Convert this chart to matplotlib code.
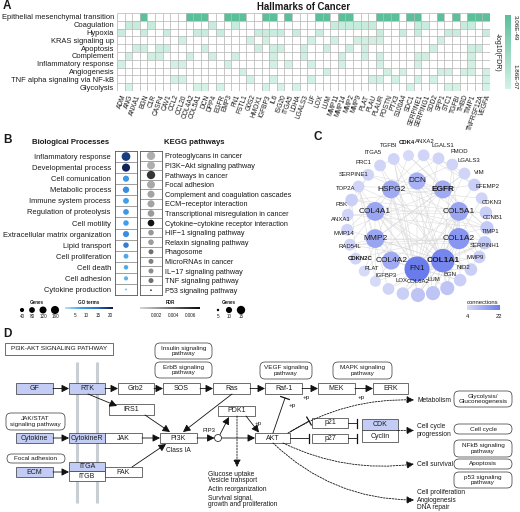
import numpy as np
import matplotlib
matplotlib.use('Agg')
import matplotlib.pyplot as plt
from matplotlib.colors import LinearSegmentedColormap, Normalize
from matplotlib.cm import ScalarMappable
from matplotlib.patches import FancyBboxPatch, Rectangle, Circle

plt.rcParams['font.family'] = ['Liberation Sans', 'DejaVu Sans']
plt.rcParams['axes.linewidth'] = 0.6

# ------------------------------------------------------------------ data
# Panel A
hm_genes = ['ADM', 'ANG', 'ANXA1', 'BGN', 'C1R', 'CASP4', 'CAV1', 'CCL2', 'CCL20', 'COL4A2',
            'COL5A1', 'DCN', 'DPP4', 'EGFR', 'EMP3', 'FN1', 'FSTL1', 'G0S2', 'HMOX1', 'IGFBP3',
            'IL6', 'ISG20', 'ITGA5', 'LDHA', 'LGALS3', 'LIF', 'LOX', 'LUM', 'MMP11', 'MMP14',
            'MMP2', 'MMP9', 'PLAT', 'PLAU', 'PLAUR', 'POSTN', 'PTX3', 'S100A4', 'SDC1', 'SERPINE1',
            'SERPING1', 'SOD2', 'SPP1', 'STC1', 'TGFBI', 'THBD', 'TIMP1', 'TNFRSF12A', 'VEGFA']
hallmarks = ['Epithelial mesenchymal transition', 'Coagulation', 'Hypoxia', 'KRAS signaling up',
             'Apoptosis', 'Complement', 'Inflammatory response', 'Angiogenesis',
             'TNF alpha signaling via NF-kB', 'Glycolysis']
hallmark_nlogfdr = [48.51, 12.0, 11.0, 8.5, 9.5, 9.0, 8.0, 8.5, 7.5, 6.9]
emt_genes = ['BGN', 'COL4A2', 'COL5A1', 'DCN', 'EMP3', 'FN1', 'FSTL1', 'IGFBP3', 'IL6', 'ITGA5',
             'LOX', 'LUM', 'MMP14', 'MMP2', 'PLAUR', 'POSTN', 'PTX3', 'SDC1', 'SERPINE1', 'SPP1',
             'TGFBI', 'TIMP1', 'TNFRSF12A', 'VEGFA']
coag_genes = ['ANG', 'ANXA1', 'C1R', 'DPP4', 'FN1', 'MMP11', 'MMP14', 'MMP2', 'MMP9', 'PLAT',
              'PLAU', 'SERPINE1', 'SERPING1', 'THBD', 'TIMP1']
hypoxia_genes = ['ADM', 'BGN', 'CAV1', 'COL5A1', 'DCN', 'EGFR', 'HMOX1', 'IGFBP3', 'IL6', 'ISG20',
                 'LDHA', 'LOX', 'PLAUR', 'S100A4', 'SERPINE1', 'STC1', 'TGFBI', 'VEGFA']
kras_genes = ['CCL20', 'G0S2', 'IGFBP3', 'LIF', 'MMP11', 'MMP9', 'PLAT', 'PLAU', 'PLAUR', 'SPP1']
apop_genes = ['ANXA1', 'BGN', 'CASP4', 'CAV1', 'DCN', 'HMOX1', 'IL6', 'ISG20', 'LGALS3', 'LUM',
              'MMP2', 'PLAT', 'SOD2', 'TIMP1', 'TNFRSF12A']
compl_genes = ['ANG', 'C1R', 'CASP4', 'COL4A2', 'DPP4', 'FN1', 'IL6', 'LGALS3', 'MMP14', 'PLAT',
               'PLAUR', 'SERPINE1', 'SERPING1', 'TIMP1']
inflam_genes = ['ADM', 'CCL2', 'CCL20', 'EMP3', 'IL6', 'ITGA5', 'LIF', 'MMP14', 'PLAUR',
                'SERPINE1', 'TIMP1']
angio_genes = ['FSTL1', 'LUM', 'POSTN', 'S100A4', 'SPP1', 'STC1', 'THBD', 'TIMP1', 'VEGFA']
tnf_genes = ['CCL2', 'CCL20', 'G0S2', 'IL6', 'LIF', 'PLAU', 'PLAUR', 'PTX3', 'SERPINE1', 'SOD2',
             'VEGFA']
glyco_genes = ['ANG', 'COL5A1', 'DCN', 'EGFR', 'IGFBP3', 'ISG20', 'LDHA', 'SDC1', 'STC1', 'TGFBI',
               'VEGFA']
hallmark_members = [emt_genes, coag_genes, hypoxia_genes, kras_genes, apop_genes, compl_genes,
                    inflam_genes, angio_genes, tnf_genes, glyco_genes]

# Panel B
bp_terms = ['Inflammatory response', 'Developmental process', 'Cell comunication',
            'Metabolic process', 'Immune system process', 'Regulation of proteolysis',
            'Cell motility', 'Extracellular matrix organization', 'Lipid transport',
            'Cell proliferation', 'Cell death', 'Cell adhesion', 'Cytokine production']
bp_genes = [185, 160, 90, 98, 82, 78, 72, 90, 72, 58, 48, 40, 8]
bp_goterms = [18, 20, 9, 10, 8, 9, 8, 10, 12, 7, 7, 6, 4]
kegg_terms = ['Proteoglycans in cancer', 'PI3K\u2212Akt signaling pathway', 'Pathways in cancer',
              'Focal adhesion', 'Complement and coagulation cascades', 'ECM\u2212receptor interaction',
              'Transcriptional misregulation in cancer', 'Cytokine\u2212cytokine receptor interaction',
              'HIF\u22121 signaling pathway', 'Relaxin signaling pathway', 'Phagosome',
              'MicroRNAs in cancer', 'IL\u221217 signaling pathway', 'TNF signaling pathway',
              'P53 signaling pathway']
kegg_genes = [15, 14, 15, 14, 12, 12, 11, 11, 9, 9, 8, 8, 8, 8, 4.5]
kegg_fdr = [0.0014, 0.0014, 0.0056, 0.0016, 0.0018, 0.0018, 0.0021, 0.0068, 0.0022, 0.0020,
            0.0036, 0.0030, 0.0026, 0.0036, 0.0068]
bp_legend_genes = [40, 80, 120, 160]
kegg_legend_genes = [5, 10, 15]

# Panel C
inner_nodes = ['DCN', 'EGFR', 'COL5A1', 'COL1A2', 'COL1A1', 'FN1', 'COL4A2', 'MMP2', 'COL4A1', 'HSPG2']
inner_conn = [12, 13, 14, 17, 20, 22, 13, 14, 14, 13]
outer_nodes = ['CDK4', 'ANXA2', 'LGALS1', 'FMOD', 'LGALS3', 'VIM', 'EFEMP2', 'CDKN3', 'CCNB1',
               'TIMP1', 'SERPINH1', 'MMP9', 'NID2', 'BGN', 'LUM', 'COL6A2', 'LOX', 'IGFBP3', 'PLAT',
               'CDKN2C', 'RAD54L', 'MMP14', 'ANXA1', 'PBK', 'TOP2A', 'SERPINE1', 'PRC1', 'ITGA5',
               'TGFBI']
outer_conn = [4, 5, 5, 5, 5, 6, 5, 6, 7, 7, 6, 6, 6, 8, 8, 8, 6, 5, 4, 4, 5, 5, 5, 5, 6, 5, 5, 5, 5]
bold_nodes = ['EGFR', 'COL1A1', 'CDK4', 'CDKN2C']
net_edges = [
    ('FN1', 'COL1A1'), ('FN1', 'COL1A2'), ('FN1', 'COL4A1'), ('FN1', 'COL4A2'), ('FN1', 'COL5A1'),
    ('FN1', 'DCN'), ('FN1', 'EGFR'), ('FN1', 'HSPG2'), ('FN1', 'MMP2'), ('FN1', 'ITGA5'),
    ('FN1', 'TGFBI'), ('FN1', 'SERPINE1'), ('FN1', 'TIMP1'), ('FN1', 'VIM'), ('FN1', 'LGALS3'),
    ('FN1', 'BGN'), ('FN1', 'LUM'), ('FN1', 'MMP9'), ('FN1', 'IGFBP3'), ('FN1', 'SERPINH1'),
    ('FN1', 'NID2'), ('FN1', 'LOX'), ('FN1', 'LGALS1'), ('FN1', 'PLAT'),
    ('COL1A1', 'COL1A2'), ('COL1A1', 'COL5A1'), ('COL1A1', 'DCN'), ('COL1A1', 'MMP2'),
    ('COL1A1', 'COL4A1'), ('COL1A1', 'COL4A2'), ('COL1A1', 'HSPG2'), ('COL1A1', 'LUM'),
    ('COL1A1', 'BGN'), ('COL1A1', 'SERPINH1'), ('COL1A1', 'MMP14'), ('COL1A1', 'FMOD'),
    ('COL1A1', 'COL6A2'), ('COL1A1', 'LOX'), ('COL1A1', 'TIMP1'), ('COL1A1', 'MMP9'),
    ('COL1A1', 'ITGA5'), ('COL1A1', 'NID2'), ('COL1A1', 'TGFBI'),
    ('COL1A2', 'COL5A1'), ('COL1A2', 'DCN'), ('COL1A2', 'MMP2'), ('COL1A2', 'COL4A1'),
    ('COL1A2', 'LUM'), ('COL1A2', 'BGN'), ('COL1A2', 'SERPINH1'), ('COL1A2', 'COL6A2'),
    ('COL1A2', 'FMOD'), ('COL1A2', 'LOX'), ('COL1A2', 'MMP14'), ('COL1A2', 'EFEMP2'),
    ('COL5A1', 'COL4A1'), ('COL5A1', 'COL4A2'), ('COL5A1', 'DCN'), ('COL5A1', 'LUM'),
    ('COL5A1', 'BGN'), ('COL5A1', 'COL6A2'), ('COL5A1', 'SERPINH1'), ('COL5A1', 'NID2'),
    ('COL4A1', 'COL4A2'), ('COL4A1', 'HSPG2'), ('COL4A1', 'MMP2'), ('COL4A1', 'NID2'),
    ('COL4A1', 'MMP9'), ('COL4A1', 'MMP14'), ('COL4A2', 'HSPG2'), ('COL4A2', 'NID2'),
    ('COL4A2', 'MMP2'), ('COL4A2', 'PLAT'), ('HSPG2', 'LGALS1'), ('HSPG2', 'EFEMP2'),
    ('HSPG2', 'COL6A2'), ('HSPG2', 'DCN'), ('DCN', 'LUM'), ('DCN', 'BGN'), ('DCN', 'FMOD'),
    ('DCN', 'EGFR'), ('DCN', 'TGFBI'), ('MMP2', 'MMP14'), ('MMP2', 'TIMP1'), ('MMP2', 'MMP9'),
    ('MMP2', 'PLAT'), ('MMP2', 'SERPINE1'), ('MMP2', 'LGALS3'), ('MMP2', 'ANXA1'),
    ('EGFR', 'CDK4'), ('EGFR', 'CCNB1'), ('EGFR', 'ANXA1'), ('EGFR', 'ANXA2'), ('EGFR', 'VIM'),
    ('EGFR', 'LGALS3'), ('EGFR', 'MMP9'), ('EGFR', 'TIMP1'), ('EGFR', 'SERPINE1'),
    ('EGFR', 'CDKN2C'), ('EGFR', 'TOP2A'), ('EGFR', 'PRC1'), ('EGFR', 'MMP2'),
    ('TOP2A', 'PBK'), ('TOP2A', 'PRC1'), ('TOP2A', 'CCNB1'), ('TOP2A', 'CDKN3'),
    ('TOP2A', 'RAD54L'), ('PBK', 'PRC1'), ('PBK', 'CCNB1'), ('PBK', 'CDKN3'), ('PRC1', 'CCNB1'),
    ('CCNB1', 'CDKN3'), ('CCNB1', 'CDK4'), ('CDK4', 'CDKN2C'), ('RAD54L', 'CCNB1'),
    ('ANXA1', 'ANXA2'), ('LGALS1', 'LGALS3'), ('SERPINE1', 'PLAT'), ('SERPINE1', 'TIMP1'),
    ('TIMP1', 'MMP9'), ('VIM', 'LGALS1'), ('TGFBI', 'COL6A2'), ('ITGA5', 'TGFBI'),
    ('IGFBP3', 'SERPINE1'), ('ANXA2', 'VIM'), ('MMP14', 'TIMP1'), ('IGFBP3', 'TIMP1')]

# Panel D (diagram boxes: label, x0, y0, x1, y1, kind)
pathway_boxes = [
    ('PI3K-AKT SIGNALING PATHWAY', 5, 343, 113, 355, 'title'),
    ('Insulin signaling\npathway', 155, 343, 212, 359, 'round'),
    ('ErbB signaling\npathway', 155, 362, 212, 378, 'round'),
    ('VEGF signaling\npathway', 260, 362, 312, 379, 'round'),
    ('MAPK signaling\npathway', 333, 362, 392, 379, 'round'),
    ('GF', 16, 383, 53, 394, 'blue'), ('RTK', 69, 383, 105, 394, 'blue'),
    ('Grb2', 118, 383, 154, 394, 'white'), ('SOS', 163, 383, 200, 394, 'white'),
    ('Ras', 213, 383, 250, 394, 'white'), ('Raf-1', 265, 383, 302, 394, 'white'),
    ('MEK', 318, 383, 355, 394, 'white'), ('ERK', 373, 383, 408, 394, 'white'),
    ('IRS1', 109, 404, 154, 415, 'white'), ('PDK1', 218, 406, 255, 416, 'white'),
    ('JAK/STAT\nsignaling pathway', 6, 413, 65, 430, 'round'),
    ('Cytokine', 16, 433, 53, 443, 'blue'), ('CytokineR', 69, 433, 105, 443, 'blue'),
    ('JAK', 105, 433, 142, 443, 'white'), ('PI3K', 160, 433, 197, 443, 'white'),
    ('AKT', 255, 433, 290, 443, 'white'),
    ('p21', 312, 418, 348, 428, 'white'), ('p27', 312, 434, 348, 443, 'white'),
    ('CDK', 362, 419, 398, 430, 'blue'), ('Cyclin', 362, 430, 398, 442, 'white'),
    ('Focal adhesion', 7, 454, 65, 463, 'round'),
    ('ECM', 16, 467, 53, 477, 'blue'), ('ITGA', 69, 462, 105, 471, 'blue'),
    ('ITGB', 69, 471, 105, 481, 'white'), ('FAK', 105, 467, 142, 477, 'white'),
    ('Glycolysis/\nGluconeogenesis', 454, 391, 512, 407, 'round'),
    ('Cell cycle', 454, 424, 512, 434, 'round'),
    ('NFkB signaling\npathway', 454, 440, 512, 457, 'round'),
    ('Apoptosis', 454, 459, 512, 469, 'round'),
    ('p53 signaling\npathway', 454, 472, 512, 488, 'round'),
]
solid_arrows = [(53, 388.5, 69, 388.5), (105, 388.5, 118, 388.5), (154, 388.5, 163, 388.5),
                (200, 388.5, 213, 388.5), (250, 388.5, 265, 388.5), (302, 388.5, 318, 388.5),
                (355, 388.5, 373, 388.5), (88, 394, 117, 406), (145, 415, 170, 432),
                (232, 394, 183, 432), (53, 438, 69, 438), (142, 438, 160, 438),
                (132, 467, 166, 444), (53, 472, 69, 472), (197, 438, 214.5, 438),
                (221.5, 438, 255, 438), (220, 434.5, 229, 417), (246, 416, 259, 432.5)]
inhibitions = [(273, 433, 285, 398), (290, 432, 309, 421), (290, 438, 309, 438),
               (348, 423, 357, 423), (348, 438, 357, 438)]
dashed_arrows = [(237, 416, 237, 467, 0.0), (288, 433, 414, 400, -0.15),
                 (398, 430.5, 414, 430.5, 0.0), (283, 443, 414, 464, 0.15),
                 (273, 443, 414, 500, 0.2)]
plus_p = [(306, 398), (361, 398), (292, 406), (258, 423)]

# ------------------------------------------------------------------ figure
W, H = 520, 512
fig = plt.figure(figsize=(W / 100, H / 100), dpi=100)


def px_axes(x0, y0, x1, y1):
    return fig.add_axes([x0 / W, 1 - y1 / H, (x1 - x0) / W, (y1 - y0) / H])


base = px_axes(0, 0, W, H)
base.set_xlim(0, W)
base.set_ylim(H, 0)
base.axis('off')

TXT = '#1a1a1a'
for letter, (x, y) in zip(['A', 'B', 'C', 'D'], [(3, 6), (3, 140), (313, 137), (3, 334)]):
    base.text(x, y, letter, fontsize=8.5, fontweight='bold', va='center', ha='left', color=TXT)

# ------------------------------------------------------------------ panel A
M = np.full((len(hallmarks), len(hm_genes)), np.nan)
for r, members in enumerate(hallmark_members):
    for g in members:
        M[r, hm_genes.index(g)] = hallmark_nlogfdr[r]
nr, nc = M.shape
axA = px_axes(117, 13, 490, 91)
cmapA = LinearSegmentedColormap.from_list('hm', ['#d4f2e6', '#5bbf9a'])
cmapA.set_bad('white')
normA = Normalize(6.73, 48.51)
axA.pcolormesh(np.ma.masked_invalid(M), cmap=cmapA, norm=normA)
axA.set_xlim(0, nc)
axA.set_ylim(nr, 0)
axA.vlines(np.arange(nc + 1), 0, nr, color='#b9b9b9', lw=0.55)
axA.hlines(np.arange(nr + 1), 0, nc, color='#b9b9b9', lw=0.55)
axA.set_xticks(np.arange(nc) + 0.5)
axA.set_xticklabels(hm_genes, rotation=70, ha='right', rotation_mode='anchor',
                    fontsize=4.8, color=TXT)
axA.set_yticks(np.arange(nr) + 0.5)
axA.set_yticklabels(hallmarks, fontsize=5.4, color=TXT)
axA.tick_params(length=0, pad=2)
for s in axA.spines.values():
    s.set_visible(False)
axA.set_title('Hallmarks of Cancer', fontsize=6.9, fontweight='bold', pad=2.5, color=TXT)

caxA = px_axes(505, 15, 511, 89)
cbA = fig.colorbar(ScalarMappable(normA, cmapA), cax=caxA)
cbA.outline.set_visible(False)
cbA.set_ticks([])
caxA.text(1.25, 1.0, '3.06E-49', transform=caxA.transAxes, rotation=270, va='top',
          ha='left', fontsize=4.5, color=TXT)
caxA.text(1.25, 0.0, '1.86E-07', transform=caxA.transAxes, rotation=270, va='bottom',
          ha='left', fontsize=4.5, color=TXT)
caxA.text(-1.35, 0.5, '-log10(FDR)', transform=caxA.transAxes, rotation=270, va='center',
          ha='center', fontsize=5.0, color=TXT)

# ------------------------------------------------------------------ panel B
cmapGO = LinearSegmentedColormap.from_list('go', ['#b5e1f8', '#41a2ea', '#2a6acb', '#0c1946'])
normGO = Normalize(1, 21)
cmapF = LinearSegmentedColormap.from_list('fdr', ['#d6d6d6', '#0a0a0a'])
normF = Normalize(0.0, 0.0071)


def bp_size(g):
    return 0.21 * g + 0.5


def kegg_size(g):
    return max(3.3 * g - 13.5, 1.2)


axBP = px_axes(115, 151, 137, 295)
nb = len(bp_terms)
axBP.scatter(np.zeros(nb), np.arange(nb), s=[bp_size(g) for g in bp_genes], c=bp_goterms,
             cmap=cmapGO, norm=normGO, linewidths=0, zorder=3)
axBP.set_xlim(-0.5, 0.5)
axBP.set_ylim(nb - 0.5, -0.5)
axBP.hlines(np.arange(nb - 1) + 0.5, -0.5, 0.5, color='#777777', lw=0.5)
axBP.set_xticks([])
axBP.set_yticks(np.arange(nb))
axBP.set_yticklabels(bp_terms, fontsize=5.4, color=TXT)
axBP.tick_params(length=0, pad=3)
for s in axBP.spines.values():
    s.set_color('#555555')

axK = px_axes(140, 151, 162, 295)
nk = len(kegg_terms)
axK.scatter(np.zeros(nk), np.arange(nk), s=[kegg_size(g) for g in kegg_genes], c=kegg_fdr,
            cmap=cmapF, norm=normF, linewidths=0, zorder=3)
axK.set_xlim(-0.5, 0.5)
axK.set_ylim(nk - 0.5, -0.5)
axK.hlines(np.arange(nk - 1) + 0.5, -0.5, 0.5, color='#777777', lw=0.5)
axK.set_xticks([])
axK.yaxis.tick_right()
axK.set_yticks(np.arange(nk))
axK.set_yticklabels(kegg_terms, fontsize=5.2, color=TXT)
axK.tick_params(length=0, pad=2)
for s in axK.spines.values():
    s.set_color('#555555')

base.text(71, 143, 'Biological Processes', fontsize=5.6, fontweight='bold', ha='center',
          va='center', color=TXT)
base.text(164, 143, 'KEGG pathways', fontsize=5.6, fontweight='bold', ha='left', va='center',
          color=TXT)

# legends of B
LEG = 3.3
base.text(37, 302, 'Genes', fontsize=LEG, fontweight='bold', ha='center', va='center', color=TXT)
bx = [22, 32, 43, 55]
base.scatter(bx, [310] * 4, s=[bp_size(g) for g in bp_legend_genes], c='black', linewidths=0)
for x, g in zip(bx, bp_legend_genes):
    base.text(x, 317, str(g), fontsize=LEG, ha='center', va='center', color=TXT)

base.text(89, 302, 'GO terms', fontsize=LEG, fontweight='bold', ha='center', va='center', color=TXT)
caxGO = px_axes(65, 307, 113, 309)
cbGO = fig.colorbar(ScalarMappable(normGO, cmapGO), cax=caxGO, orientation='horizontal')
cbGO.outline.set_visible(False)
cbGO.set_ticks([5, 10, 15, 20])
caxGO.tick_params(length=0, labelsize=LEG, pad=3, labelcolor=TXT)

base.text(170, 302, 'FDR', fontsize=LEG, fontweight='bold', ha='center', va='center', color=TXT)
caxF = px_axes(140, 307, 200, 309)
cbF = fig.colorbar(ScalarMappable(normF, cmapF), cax=caxF, orientation='horizontal')
cbF.outline.set_visible(False)
cbF.set_ticks([0.002, 0.004, 0.006])
cbF.set_ticklabels(['0.002', '0.004', '0.006'])
caxF.tick_params(length=0, labelsize=LEG, pad=3, labelcolor=TXT)

base.text(229, 302, 'Genes', fontsize=LEG, fontweight='bold', ha='center', va='center', color=TXT)
kx = [218, 229, 241]
base.scatter(kx, [310] * 3, s=[kegg_size(g) for g in kegg_legend_genes], c='black', linewidths=0)
for x, g in zip(kx, kegg_legend_genes):
    base.text(x, 317, str(g), fontsize=LEG, ha='center', va='center', color=TXT)

# ------------------------------------------------------------------ panel C
cx, cy = 417, 225
R_in, R_out = 44, 70
cmapC = LinearSegmentedColormap.from_list('c', ['#d6d9f8', '#6a7cec'])
normC = Normalize(4, 22)
pos, conn, ang = {}, {}, {}
for i, (n, c) in enumerate(zip(inner_nodes, inner_conn)):
    a = np.radians(90 - 36 * i)
    pos[n] = (cx + R_in * np.cos(a), cy - R_in * np.sin(a))
    conn[n] = c
    ang[n] = a
step = 360 / len(outer_nodes)
for i, (n, c) in enumerate(zip(outer_nodes, outer_conn)):
    a = np.radians(97 - step * i)
    pos[n] = (cx + R_out * np.cos(a), cy - R_out * np.sin(a))
    conn[n] = c
    ang[n] = a
for a_, b_ in net_edges:
    base.plot([pos[a_][0], pos[b_][0]], [pos[a_][1], pos[b_][1]], color='#d8d8d8', lw=0.35,
              zorder=2)
for n in pos:
    r = 5.5 + (conn[n] - 4) * 7.0 / 18
    base.add_patch(Circle(pos[n], r, facecolor=cmapC(normC(conn[n])), edgecolor='none', zorder=3))
for n in inner_nodes:
    base.text(pos[n][0], pos[n][1], n, fontsize=6.0, ha='center', va='center', zorder=4,
              fontweight='bold' if n in bold_nodes else 'normal', color=TXT)
for n in outer_nodes:
    a = ang[n]
    spread = 14 if np.sin(a) > 0.8 else 6
    lx = pos[n][0] + spread * np.cos(a)
    ly = pos[n][1] - 10 - 3.5 * abs(np.sin(a))
    base.text(lx, ly, n, fontsize=4.3, ha='center', va='center', zorder=4,
              fontweight='bold' if n in bold_nodes else 'normal', color=TXT)

base.text(483, 302, 'connections', fontsize=4.2, ha='center', va='center', color=TXT)
caxC = px_axes(467, 305, 500, 310)
cbC = fig.colorbar(ScalarMappable(normC, cmapC), cax=caxC, orientation='horizontal')
cbC.outline.set_visible(False)
cbC.set_ticks([])
base.text(468, 316, '4', fontsize=4.2, ha='center', va='center', color=TXT)
base.text(499, 316, '22', fontsize=4.2, ha='center', va='center', color=TXT)

# ------------------------------------------------------------------ panel D
for x in (77, 97):
    base.plot([x, x], [362, 503], color='#c9ced2', lw=2.2, zorder=1, solid_capstyle='butt')

EC = '#333333'
for label, x0, y0, x1, y1, kind in pathway_boxes:
    w, h = x1 - x0, y1 - y0
    if kind == 'round':
        p = FancyBboxPatch((x0, y0), w, h, boxstyle=f'round,pad=0,rounding_size={min(5, h / 2)}',
                           fc='white', ec=EC, lw=0.5, zorder=3)
        fs = 4.6
    else:
        fc = '#c3ccf4' if kind == 'blue' else 'white'
        p = Rectangle((x0, y0), w, h, fc=fc, ec=EC, lw=0.5, zorder=3)
        fs = 4.6 if kind == 'title' else 5.0
    base.add_patch(p)
    base.text((x0 + x1) / 2, (y0 + y1) / 2, label, ha='center', va='center', fontsize=fs,
              zorder=4, linespacing=1.05, color=TXT)

AP = dict(arrowstyle='-|>,head_length=0.55,head_width=0.28', color='#111111', lw=0.6,
          shrinkA=0, shrinkB=0, mutation_scale=8)
for x0, y0, x1, y1 in solid_arrows:
    base.annotate('', xy=(x1, y1), xytext=(x0, y0), arrowprops=AP, zorder=5)
for x0, y0, x1, y1, rad in dashed_arrows:
    ap = dict(AP, linestyle=(0, (2.0, 1.5)), connectionstyle=f'arc3,rad={rad}')
    base.annotate('', xy=(x1, y1), xytext=(x0, y0), arrowprops=ap, zorder=5)
for x0, y0, x1, y1 in inhibitions:
    base.plot([x0, x1], [y0, y1], color='#111111', lw=0.6, zorder=5)
    d = np.array([x1 - x0, y1 - y0], dtype=float)
    d /= np.linalg.norm(d)
    nvec = np.array([-d[1], d[0]]) * 4.5
    base.plot([x1 - nvec[0], x1 + nvec[0]], [y1 - nvec[1], y1 + nvec[1]], color='#111111',
              lw=0.9, zorder=5)
for x, y in plus_p:
    base.text(x, y, '+p', fontsize=4.5, ha='center', va='center', color=TXT, zorder=5)

base.add_patch(Circle((218, 438), 3.5, fc='white', ec=EC, lw=0.6, zorder=6))
base.text(209, 430, 'PIP3', fontsize=4.3, ha='center', va='center', color=TXT)
base.text(178, 451, 'Class IA', fontsize=4.8, ha='center', va='center', color=TXT)

for txt, y in [('Glucose uptake', 474), ('Vesicle transport', 481), ('Actin reorganization', 489.5),
               ('Survival signal,', 498), ('growth and proliferation', 505)]:
    base.text(208, y, txt, fontsize=4.8, ha='left', va='center', color=TXT)
for txt, y in [('Metabolism', 400), ('Cell cycle\nprogression', 430.5), ('Cell survival', 464),
               ('Cell proliferation\nAngiogenesis\nDNA repair', 500)]:
    base.text(417, y, txt, fontsize=4.8, ha='left', va='center', color=TXT, linespacing=1.1)

fig.savefig('out.png', dpi=100)
